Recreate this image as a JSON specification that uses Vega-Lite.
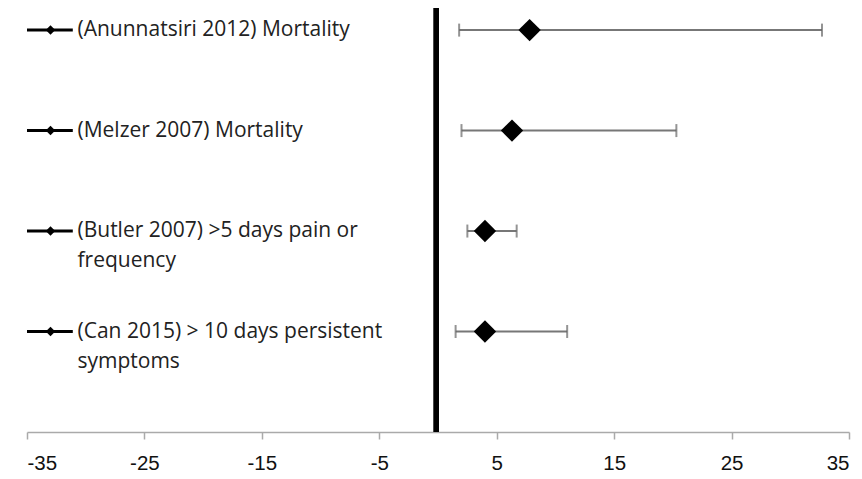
{
  "$schema": "https://vega.github.io/schema/vega-lite/v6.json",
  "width": 822,
  "height": 424,
  "autosize": {"type": "none"},
  "padding": {"left": 27, "top": 8, "right": 13, "bottom": 47},
  "background": "white",
  "config": {"view": {"stroke": null}},
  "data": {
    "values": [
      {"study": "(Anunnatsiri 2012) Mortality", "row": 4, "est": 7.8, "lo": 1.8, "hi": 32.7},
      {"study": "(Melzer 2007) Mortality", "row": 3, "est": 6.3, "lo": 2.0, "hi": 20.3},
      {"study": "(Butler 2007) >5 days pain or\nfrequency", "row": 2, "est": 4.0, "lo": 2.5, "hi": 6.7},
      {"study": "(Can 2015) > 10 days persistent\nsymptoms", "row": 1, "est": 4.0, "lo": 1.5, "hi": 11.0}
    ]
  },
  "layer": [
    {
      "mark": {"type": "rule", "color": "black", "strokeWidth": 5},
      "encoding": {
        "x": {"datum": -0.15, "type": "quantitative", "scale": {"domain": [-35, 35], "nice": false, "zero": false},
          "axis": {"values": [-35, -25, -15, -5, 5, 15, 25, 35], "title": null, "grid": false,
            "labelExpr": "toString(datum.value)",
            "domainColor": "#aaaaaa", "domainWidth": 1.5, "tickColor": "#aaaaaa", "tickWidth": 1.5, "tickSize": 7,
            "labelPadding": 14, "labelFont": "Liberation Sans",
            "labelFontSize": 20.5, "labelColor": "#111111"}},
        "y": {"datum": 0, "type": "quantitative", "scale": {"domain": [0, 4.22], "nice": false, "zero": false}, "axis": null},
        "y2": {"datum": 4.22}
      }
    },
    {
      "mark": {"type": "rule", "color": "#777777", "strokeWidth": 2},
      "encoding": {
        "x": {"field": "lo", "type": "quantitative"},
        "x2": {"field": "hi"},
        "y": {"field": "row", "type": "quantitative"}
      }
    },
    {
      "mark": {"type": "tick", "orient": "vertical", "color": "#666666", "size": 13, "thickness": 2},
      "encoding": {"x": {"field": "lo", "type": "quantitative"}, "y": {"field": "row", "type": "quantitative"}}
    },
    {
      "mark": {"type": "tick", "orient": "vertical", "color": "#666666", "size": 13, "thickness": 2},
      "encoding": {"x": {"field": "hi", "type": "quantitative"}, "y": {"field": "row", "type": "quantitative"}}
    },
    {
      "mark": {"type": "point", "shape": "diamond", "filled": true, "color": "black", "size": 500, "opacity": 1},
      "encoding": {"x": {"field": "est", "type": "quantitative"}, "y": {"field": "row", "type": "quantitative"}}
    },
    {
      "mark": {"type": "rule", "color": "black", "strokeWidth": 3},
      "encoding": {"x": {"datum": -35}, "x2": {"datum": -31.1}, "y": {"field": "row", "type": "quantitative"}}
    },
    {
      "mark": {"type": "point", "shape": "diamond", "filled": true, "color": "black", "size": 90, "opacity": 1},
      "encoding": {"x": {"datum": -33.0}, "y": {"field": "row", "type": "quantitative"}}
    },
    {
      "mark": {"type": "text", "align": "left", "baseline": "middle", "lineBreak": "\n", "lineHeight": 30,
        "font": "Open Sans", "fontSize": 21, "color": "#222222"},
      "encoding": {"x": {"datum": -30.7}, "y": {"field": "row", "type": "quantitative"}, "text": {"field": "study"}}
    }
  ]
}
